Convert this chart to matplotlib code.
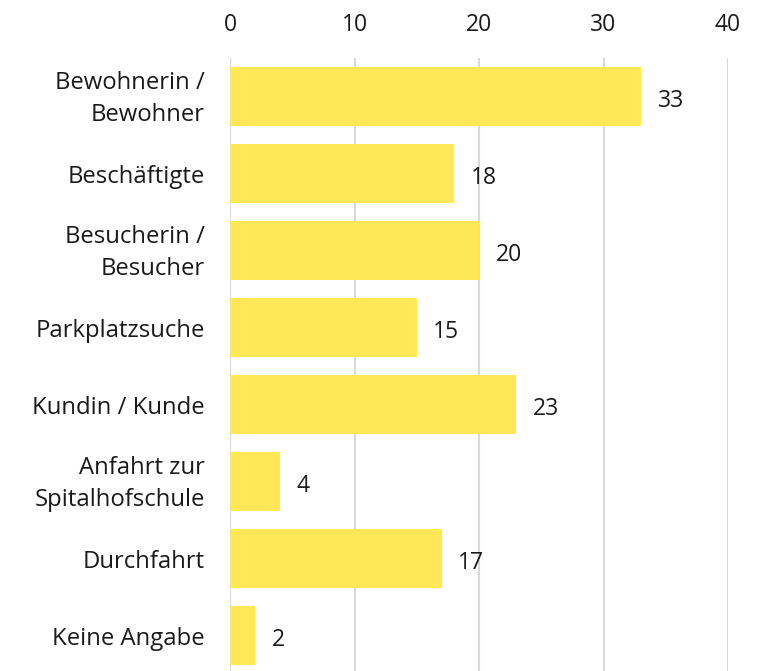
import matplotlib
matplotlib.use("Agg")
import matplotlib.pyplot as plt
import matplotlib.transforms as mtransforms

categories = ["Bewohnerin /\nBewohner", "Beschäftigte", "Besucherin /\nBesucher", "Parkplatzsuche",
              "Kundin / Kunde", "Anfahrt zur\nSpitalhofschule", "Durchfahrt", "Keine Angabe"]
values = [33, 18, 20, 15, 23, 4, 17, 2]
xticks = [0, 10, 20, 30, 40]

plt.rcParams['font.family'] = ['Open Sans', 'DejaVu Sans']
FS = 16.5

fig = plt.figure(figsize=(7.7, 6.71), dpi=100)
ax = fig.add_axes([230/770, 0, (728-230)/770, (671-58)/671])

y = list(range(len(categories)))
ax.barh(y, values, height=0.765, color="#FFE757", zorder=2)
for yi, v in zip(y, values):
    ax.annotate(str(v), (v, yi), xytext=(12, -3), textcoords="offset points",
                ha="left", va="center", fontsize=FS, color="#1a1a1a")

ax.set_xlim(0, 40)
ax.set_ylim(7.46, -0.5)
ax.set_xticks(xticks)
ax.xaxis.tick_top()
ax.tick_params(axis="x", length=0, pad=15, labelsize=FS, labelcolor="#1a1a1a")
ax.set_yticks(y)
ax.set_yticklabels(categories, fontsize=17.2, color="#1a1a1a", linespacing=1.45)
ax.tick_params(axis="y", length=0, pad=18)
shift = mtransforms.ScaledTranslation(0, 4.5/100, fig.dpi_scale_trans)
for lab in ax.get_yticklabels():
    if "\n" in lab.get_text():
        lab.set_transform(lab.get_transform() + shift)
for xv in xticks:
    ax.axvline(xv, color="#d9d9d9", lw=1.5, zorder=1)
for s in ax.spines.values():
    s.set_visible(False)

fig.savefig("out.png", dpi=100)
